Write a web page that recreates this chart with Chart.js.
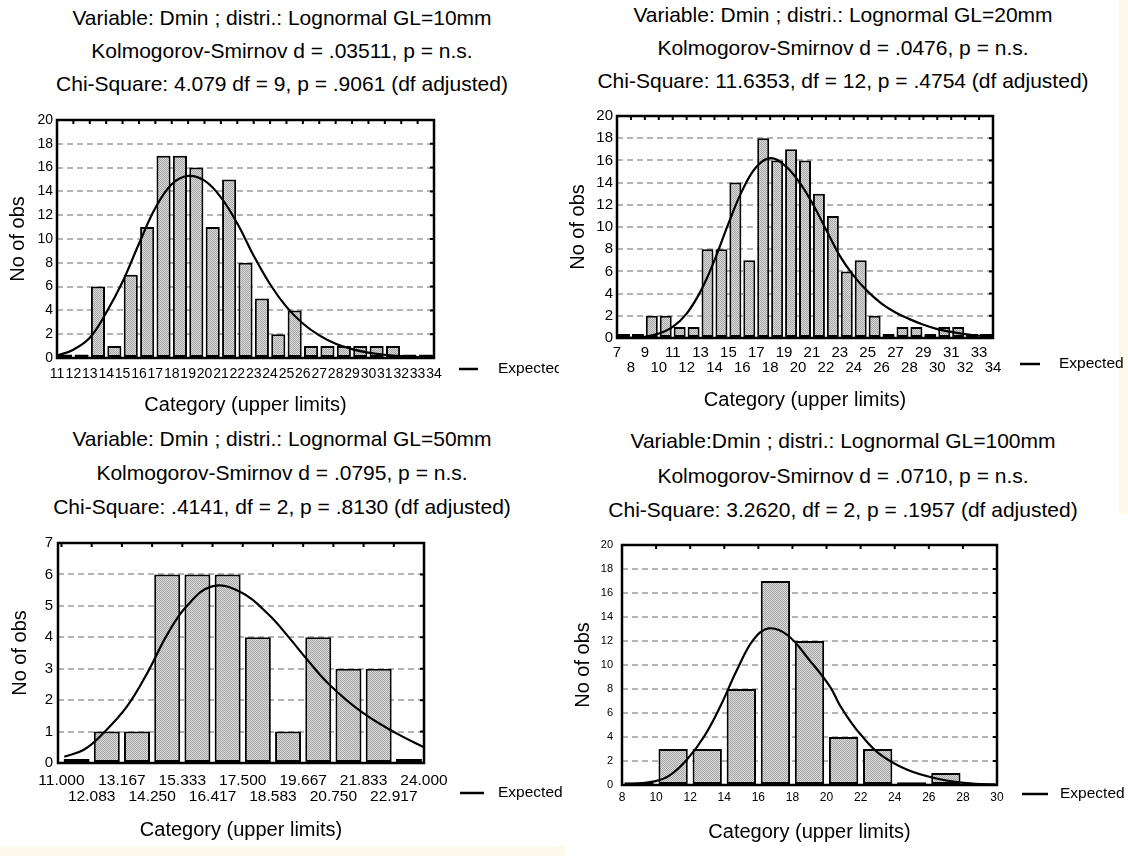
<!DOCTYPE html>
<html>
<head>
<meta charset="utf-8">
<script src="https://cdn.jsdelivr.net/npm/chart.js@4.4.1/dist/chart.umd.min.js"></script>
<style>
  body { margin: 0; background: #fff; width: 1128px; height: 856px; position: relative; overflow: hidden;
         font-family: 'Liberation Sans', Arial, sans-serif; }
  canvas { position: absolute; }
  .title { position: absolute; width: 564px; text-align: center; font-size: 21px; color: #000; white-space: nowrap; }
  .cream { position: absolute; background: #fdf9ec; }
</style>
</head>
<body>
<div class="cream" style="left:1119px;top:0;width:9px;height:515px"></div>
<div class="cream" style="left:0;top:846px;width:565px;height:10px"></div>

<div class="title" style="left:0;top:1px;line-height:33px">
  Variable: Dmin ; distri.: Lognormal GL=10mm<br>
  Kolmogorov-Smirnov d = .03511, p = n.s.<br>
  Chi-Square: 4.079 df = 9, p = .9061 (df adjusted)
</div>
<div class="title" style="left:561px;top:-2px;line-height:33px">
  Variable: Dmin ; distri.: Lognormal GL=20mm<br>
  Kolmogorov-Smirnov d = .0476, p = n.s.<br>
  Chi-Square: 11.6353, df = 12, p = .4754 (df adjusted)
</div>
<div class="title" style="left:0;top:422px;line-height:34px">
  Variable: Dmin ; distri.: Lognormal GL=50mm<br>
  Kolmogorov-Smirnov d = .0795, p = n.s.<br>
  Chi-Square: .4141, df = 2, p = .8130 (df adjusted)
</div>
<div class="title" style="left:561px;top:424px;line-height:34.5px">
  Variable:Dmin ; distri.: Lognormal GL=100mm<br>
  Kolmogorov-Smirnov d = .0710, p = n.s.<br>
  Chi-Square: 3.2620, df = 2, p = .1957 (df adjusted)
</div>

<canvas id="c1" width="559" height="424" style="left:0;top:0"></canvas>
<canvas id="c2" width="564" height="424" style="left:564px;top:0"></canvas>
<canvas id="c3" width="565" height="432" style="left:0;top:424px"></canvas>
<canvas id="c4" width="564" height="432" style="left:564px;top:424px"></canvas>

<script>
Chart.defaults.font.family = "'Liberation Sans', Arial, sans-serif";
Chart.defaults.color = '#000';

// GL=10mm
const p1Edges = [11, 12, 13, 14, 15, 16, 17, 18, 19, 20, 21, 22, 23, 24, 25, 26, 27, 28, 29, 30, 31, 32, 33, 34];
const p1Counts = [0.3, 0.3, 6, 1, 7, 11, 17, 17, 16, 11, 15, 8, 5, 2, 4, 1, 1, 1, 1, 1, 1, 0.3, 0.3];
const p1CurveX = [11, 12, 13, 14, 15, 16, 17, 18, 19, 20, 21, 22, 23, 24, 25, 26, 27, 28, 29, 30, 31, 32, 33, 34];
const p1CurveY = [0.2, 0.7, 1.7, 3.8, 6.4, 9.6, 12.6, 14.6, 15.3, 14.9, 13.5, 11.3, 8.6, 6.2, 4.3, 2.9, 1.9, 1.2, 0.75, 0.45, 0.27, 0.15, 0.08, 0.05];

// GL=20mm
const p2Edges = [7, 8, 9, 10, 11, 12, 13, 14, 15, 16, 17, 18, 19, 20, 21, 22, 23, 24, 25, 26, 27, 28, 29, 30, 31, 32, 33, 34];
const p2Counts = [0.35, 0.35, 2, 2, 1, 1, 8, 8, 14, 7, 18, 16, 17, 16, 13, 11, 6, 7, 2, 0.35, 1, 1, 0.35, 1, 1, 0.35, 0.35];
const p2CurveX = [7, 8, 9, 10, 11, 12, 13, 14, 15, 16, 17, 18, 19, 20, 21, 22, 23, 24, 25, 26, 27, 28, 29, 30, 31, 32, 33, 34];
const p2CurveY = [0, 0.02, 0.1, 0.4, 1.0, 2.2, 4.2, 7.0, 10.3, 13.3, 15.4, 16.2, 15.6, 14.2, 12.2, 9.8, 7.4, 5.6, 4.2, 3.1, 2.3, 1.7, 1.2, 0.8, 0.55, 0.35, 0.2, 0.1];

// GL=50mm
const p3Edges = [11.000, 12.083, 13.167, 14.250, 15.333, 16.417, 17.500, 18.583, 19.667, 20.750, 21.833, 22.917, 24.000];
const p3Labels = ['11.000', '12.083', '13.167', '14.250', '15.333', '16.417', '17.500', '18.583', '19.667', '20.750', '21.833', '22.917', '24.000'];
const p3Counts = [0.13, 1, 1, 6, 6, 6, 4, 1, 4, 3, 3, 0.13];
const p3CurveX = [11.1, 11.8, 12.5, 13.35, 14.1, 14.8, 15.5, 16.4, 17.4, 18.4, 19.2, 19.8, 20.6, 21.8, 23.0, 24.0];
const p3CurveY = [0.2, 0.42, 0.95, 1.8, 2.9, 4.1, 5.0, 5.62, 5.45, 4.75, 3.95, 3.3, 2.5, 1.6, 0.95, 0.5];

// GL=100mm
const p4Edges = [8, 10, 12, 14, 16, 18, 20, 22, 24, 26, 28, 30];
const p4Counts = [0.22, 3, 3, 8, 17, 12, 4, 3, 0.22, 1, 0.15];
const p4CurveX = [8.35, 9.9, 10.8, 11.8, 12.8, 13.75, 14.75, 15.7, 16.6, 17.7, 19.0, 20.2, 20.8, 21.4, 22.0, 23.1, 24.7, 26.6, 28.2, 30.0];
const p4CurveY = [0.05, 0.3, 0.8, 2.1, 4.0, 6.5, 9.6, 12.1, 13.05, 12.5, 10.4, 8.2, 6.6, 5.3, 4.2, 2.6, 1.3, 0.5, 0.15, 0.03];

const hatch = (g) => {
  const c = document.createElement('canvas');
  c.width = 2; c.height = 2;
  const h = c.getContext('2d');
  h.fillStyle = '#dadada'; h.fillRect(0, 0, 2, 2);
  h.fillStyle = '#a6a6a6'; h.fillRect(0, 0, 1, 1); h.fillRect(1, 1, 1, 1);
  return g.createPattern(c, 'repeat');
};

// black frame with inward ticks on top/right, plus the "Expected" key
const framePlugin = {
  id: 'frame',
  afterDraw(chart, args, opts) {
    const { ctx, chartArea: a, scales } = chart;
    ctx.save();
    ctx.strokeStyle = '#000';
    ctx.lineWidth = 2.5;
    ctx.strokeRect(a.left, a.top, a.right - a.left, a.bottom - a.top);
    ctx.lineWidth = 2;
    ctx.beginPath();
    scales.x.ticks.forEach((t) => {
      const px = scales.x.getPixelForValue(t.value);
      ctx.moveTo(px, a.top); ctx.lineTo(px, a.top + 4);
    });
    scales.y.ticks.forEach((t) => {
      const py = scales.y.getPixelForValue(t.value);
      ctx.moveTo(a.right, py); ctx.lineTo(a.right - 4, py);
    });
    ctx.stroke();
    const lg = opts.key;
    ctx.lineWidth = 2.5;
    ctx.beginPath();
    ctx.moveTo(lg.x1, lg.y); ctx.lineTo(lg.x2, lg.y);
    ctx.stroke();
    ctx.fillStyle = '#000';
    ctx.font = "15.5px 'Liberation Sans', Arial, sans-serif";
    ctx.textBaseline = 'middle';
    ctx.fillText(chart.data.datasets[0].label, lg.tx, lg.y);
    ctx.restore();
  },
};

const histogram = (id, o) => {
  const g = document.getElementById(id).getContext('2d');
  const bars = o.counts.map((c, i) => ({ x: (o.edges[i] + o.edges[i + 1]) / 2, y: c }));
  const curve = o.curveX.map((x, i) => ({ x: x, y: o.curveY[i] }));
  return new Chart(g, {
    type: 'bar',
    data: {
      datasets: [
        {
          type: 'line', label: 'Expected', data: curve,
          borderColor: '#000', borderWidth: 2.2, pointRadius: 0,
          tension: 0.4, fill: false,
        },
        {
          type: 'bar', label: 'Observed', data: bars,
          backgroundColor: hatch(g), borderColor: '#000', borderWidth: 2,
          borderSkipped: false, categoryPercentage: 1, barPercentage: 0.86,
        },
      ],
    },
    options: {
      responsive: false,
      animation: false,
      layout: { padding: o.pad },
      plugins: {
        legend: { display: false },
        tooltip: { enabled: false },
        frame: { key: o.key },
      },
      scales: {
        x: {
          type: 'linear', min: o.xMin, max: o.xMax, offset: false,
          grid: { display: false, drawTicks: false, offset: false },
          border: { display: false },
          afterBuildTicks: (s) => { s.ticks = o.edges.map((v) => ({ value: v })); },
          afterFit: (s) => { s.height = o.xH; },
          ticks: {
            autoSkip: false, maxRotation: 0, minRotation: 0,
            padding: o.xPad, font: o.xFont, callback: o.fmt,
          },
          title: {
            display: true, text: 'Category (upper limits)', font: { size: 20 },
            padding: { top: 0, bottom: o.xtPad },
          },
        },
        y: {
          min: 0, max: o.yMax,
          ticks: { stepSize: o.yStep, padding: o.yPad, font: o.yFont },
          grid: { color: '#b4b4b4', lineWidth: 2, drawTicks: false },
          border: { display: false, dash: [6, 4] },
          afterFit: (s) => { s.width = o.yW; },
          title: {
            display: true, text: 'No of obs', font: { size: 20 },
            padding: { top: o.ytPad, bottom: 0 },
          },
        },
      },
    },
    plugins: [framePlugin],
  });
};

const twoRows = (text, i) => (i % 2 === 0 ? [text, ''] : ['', text]);

histogram('c1', {
  edges: p1Edges, counts: p1Counts, curveX: p1CurveX, curveY: p1CurveY,
  xMin: 11, xMax: 34, yMax: 20, yStep: 2,
  pad: { left: 0, top: 120, right: 125, bottom: 0 }, yW: 57, xH: 66,
  xPad: 8, xFont: { size: 14 }, fmt: (v) => String(v), xtPad: 7,
  yPad: 4, yFont: { size: 14 }, ytPad: 6,
  key: { x1: 459, x2: 478, y: 369, tx: 498 },
});

histogram('c2', {
  edges: p2Edges, counts: p2Counts, curveX: p2CurveX, curveY: p2CurveY,
  xMin: 7, xMax: 34, yMax: 20, yStep: 2,
  pad: { left: 0, top: 116, right: 135, bottom: 0 }, yW: 53, xH: 86,
  xPad: 7, xFont: { size: 15, lineHeight: 1 }, fmt: (v, i) => twoRows(String(v), i), xtPad: 12,
  yPad: 4, yFont: { size: 15 }, ytPad: 2,
  key: { x1: 456, x2: 476, y: 364, tx: 495 },
});

histogram('c3', {
  edges: p3Edges, counts: p3Counts, curveX: p3CurveX, curveY: p3CurveY,
  xMin: 10.875, xMax: 24, yMax: 7, yStep: 1,
  pad: { left: 0, top: 119, right: 141, bottom: 0 }, yW: 58, xH: 93,
  xPad: 10, xFont: { size: 15.5, lineHeight: 1.03 }, fmt: (v, i) => twoRows(p3Labels[i], i), xtPad: 14,
  yPad: 5, yFont: { size: 15 }, ytPad: 8,
  key: { x1: 460, x2: 484, y: 369, tx: 498 },
});

histogram('c4', {
  edges: p4Edges, counts: p4Counts, curveX: p4CurveX, curveY: p4CurveY,
  xMin: 8, xMax: 30, yMax: 20, yStep: 2,
  pad: { left: 0, top: 121, right: 131, bottom: 0 }, yW: 58, xH: 71,
  xPad: 5, xFont: { family: "'Liberation Sans Narrow', 'Liberation Sans', Arial", size: 12 }, fmt: (v) => String(v), xtPad: 12,
  yPad: 9, yFont: { family: "'Liberation Sans Narrow', 'Liberation Sans', Arial", size: 11 }, ytPad: 7,
  key: { x1: 458, x2: 484, y: 370, tx: 496 },
});
</script>
</body>
</html>
